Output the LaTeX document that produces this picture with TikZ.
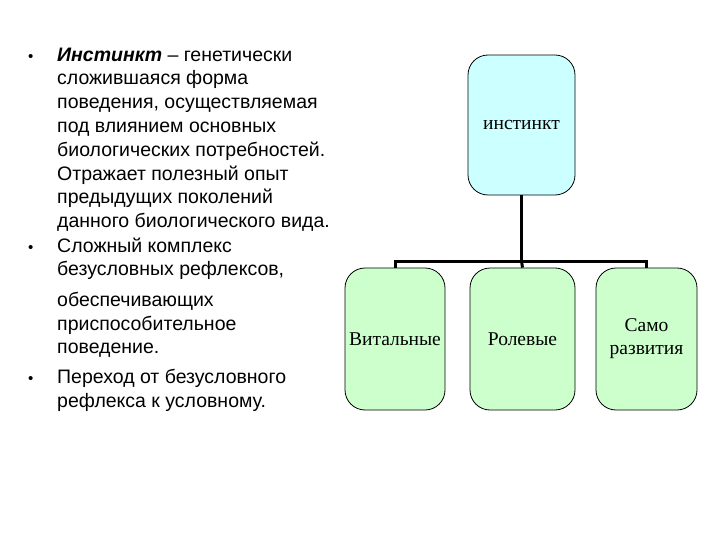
\documentclass[tikz,border=0pt]{standalone}
\usepackage{fontspec}
\setmainfont{Liberation Serif}
\newfontfamily\arialf{Liberation Sans}
\definecolor{topc}{HTML}{CCFFFF}
\definecolor{botc}{HTML}{CCFFCC}
\begin{document}
\begin{tikzpicture}[x=1pt,y=-1pt,
  box/.style={draw=black,line width=0.8pt,rounded corners=20pt,inner sep=0pt,font=\fontsize{19.5}{23}\selectfont,align=center},
  ln/.style={anchor=base west,inner sep=0pt,font=\arialf\fontsize{19.5}{23}\selectfont},
  conn/.style={line width=3pt}]
\useasboundingbox (0,0) rectangle (720,540);
\node[box,fill=topc,minimum width=107pt,minimum height=140pt] (top) at (521.5,125) {инстинкт};
\node[box,fill=botc,minimum width=100pt,minimum height=142pt] (b1) at (395,339) {Витальные};
\node[box,fill=botc,minimum width=105pt,minimum height=142pt] (b2) at (522.5,339) {Ролевые};
\node[box,fill=botc,minimum width=101pt,minimum height=142pt] (b3) at (646.5,339) {Само\\развития};
\coordinate (j) at (top.south |- 0,261);
\draw[conn] (top.south) -- (j);
\draw[conn,line cap=rect] (b1.north |- j) -- (b3.north |- j);
\draw[conn] (b1.north |- j) -- (b1.north);
\draw[conn] (j) -- (b2.north);
\draw[conn] (b3.north |- j) -- (b3.north);
\foreach \y in {62,252,383} \node[ln,font=\arialf\fontsize{15}{18}\selectfont] at (28,\y) {•};
\node[ln] (l1) at (57,62) {\textbf{\textit{Инстинкт}} – генетически};
\node[ln] (l2) at (57,85) {сложившаяся форма};
\node[ln] (l3) at (57,109) {поведения, осуществляемая};
\node[ln] (l4) at (57,133) {под влиянием основных};
\node[ln] (l5) at (57,157) {биологических потребностей.};
\node[ln] (l6) at (57,181) {Отражает полезный опыт};
\node[ln] (l7) at (57,204) {предыдущих поколений};
\node[ln] (l8) at (57,228) {данного биологического вида.};
\node[ln] (l9) at (57,252) {Сложный комплекс};
\node[ln] (l10) at (57,275) {безусловных рефлексов,};
\node[ln] (l11) at (57,306) {обеспечивающих};
\node[ln] (l12) at (57,330) {приспособительное};
\node[ln] (l13) at (57,353) {поведение.};
\node[ln] (l14) at (57,383) {Переход от безусловного};
\node[ln] (l15) at (57,407) {рефлекса к условному.};
\end{tikzpicture}
\end{document}
